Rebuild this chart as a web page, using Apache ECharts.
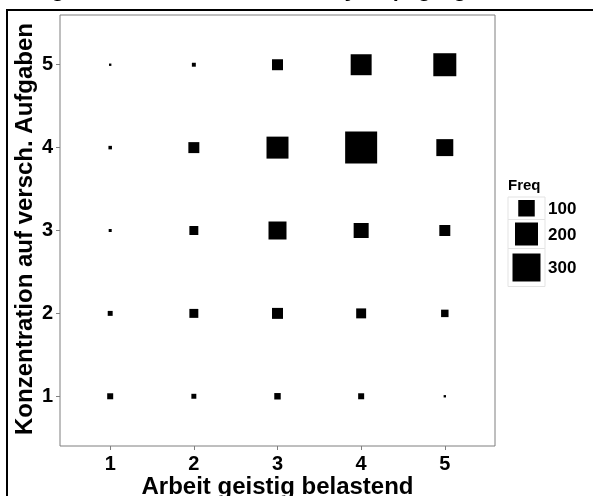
<!DOCTYPE html>
<html><head><meta charset="utf-8">
<script src="https://cdn.jsdelivr.net/npm/echarts@6/dist/echarts.min.js"></script>
<style>html,body{margin:0;padding:0;background:#fff;overflow:hidden}#c{width:593px;height:496px}</style>
</head><body><div id="c"></div>
<script>
const xLevels = [1, 2, 3, 4, 5];
const yLevels = [1, 2, 3, 4, 5];
// frequencies per y level, ordered by x level 1..5
const freqY1 = [11, 7, 13, 11, 1];
const freqY2 = [7, 27, 42, 34, 18];
const freqY3 = [2, 27, 120, 82, 42];
const freqY4 = [3, 42, 182, 395, 106];
const freqY5 = [1, 4, 42, 165, 200];
const legendBreaks = [100, 200, 300];
const legendTitle = 'Freq';
const chartTitle = 'Schätzung der Antwortmuster als Anzahl je Befragung in der Studie';
const xTitle = 'Arbeit geistig belastend';
const yTitle = 'Konzentration auf versch. Aufgaben';

const rows = [freqY1, freqY2, freqY3, freqY4, freqY5];
const data = [];
rows.forEach((row, yi) => row.forEach((f, xi) => data.push([xLevels[xi], yLevels[yi], f])));

const sizeOf = f => 0.8 + 1.57 * Math.sqrt(f);
const FONT = 'Liberation Sans, Arial, sans-serif';

// legend graphics
const legendEls = [];
legendEls.push({type:'text', left:508, top:178, style:{text:legendTitle, font:'bold 15px ' + FONT, fill:'#000'}});
let ky = 197;
const kx = 508, kw = 37;
legendBreaks.forEach((b, i) => {
  const s = sizeOf(b);
  const kh = i === legendBreaks.length - 1 ? s + 10 : s + 6;
  legendEls.push({type:'rect', shape:{x:kx, y:ky, width:kw, height:kh}, style:{fill:'#fff', stroke:'#e3e3e3', lineWidth:1}});
  legendEls.push({type:'rect', shape:{x:kx + kw/2 - s/2, y:ky + kh/2 - s/2, width:s, height:s}, style:{fill:'#000'}});
  legendEls.push({type:'text', x:548, y:ky + kh/2 + 1, style:{text:String(b), font:'bold 17px ' + FONT, fill:'#000', verticalAlign:'middle', align:'left'}});
  ky += kh;
});

const chart = echarts.init(document.getElementById('c'), null, {renderer:'canvas'});
chart.setOption({
  animation:false,
  backgroundColor:'#fff',
  grid:{left:60, top:15, width:435, height:431, show:true, borderColor:'#7f7f7f', borderWidth:1, backgroundColor:'#fff',
        outerBoundsMode:'none', containLabel:false},
  xAxis:{
    type:'value', min:0.4, max:5.6,
    axisLine:{show:false},
    splitLine:{show:false},
    axisTick:{show:true, length:4, customValues:xLevels, lineStyle:{color:'#7f7f7f'}},
    axisLabel:{customValues:xLevels, fontFamily:FONT, fontWeight:'bold', fontSize:20, color:'#000', margin:8}
  },
  yAxis:{
    type:'value', min:0.4, max:5.6,
    axisLine:{show:false},
    splitLine:{show:false},
    axisTick:{show:true, length:4, customValues:yLevels, lineStyle:{color:'#7f7f7f'}},
    axisLabel:{customValues:yLevels, fontFamily:FONT, fontWeight:'bold', fontSize:20, color:'#000', margin:7}
  },
  series:[{
    type:'scatter', symbol:'rect',
    symbolSize: v => sizeOf(v[2]),
    itemStyle:{color:'#000', opacity:1},
    data:data
  }],
  graphic:[
    {type:'rect', z:100, shape:{x:7, y:10, width:700, height:600}, style:{fill:'none', stroke:'#000', lineWidth:2}},
    {type:'text', z:100, x:-30, y:-10, style:{text:chartTitle, font:'italic bold 22px Liberation Serif, serif', fill:'#000', verticalAlign:'middle', align:'left'}},
    {type:'text', z:100, x:277.5, y:487, style:{text:xTitle, font:'bold 24px ' + FONT, fill:'#000', verticalAlign:'middle', align:'center'}},
    {type:'text', z:100, x:25, y:229, rotation:Math.PI/2, style:{text:yTitle, font:'bold 24px ' + FONT, fill:'#000', verticalAlign:'middle', align:'center'}},
    ...legendEls
  ]
});
</script></body></html>
